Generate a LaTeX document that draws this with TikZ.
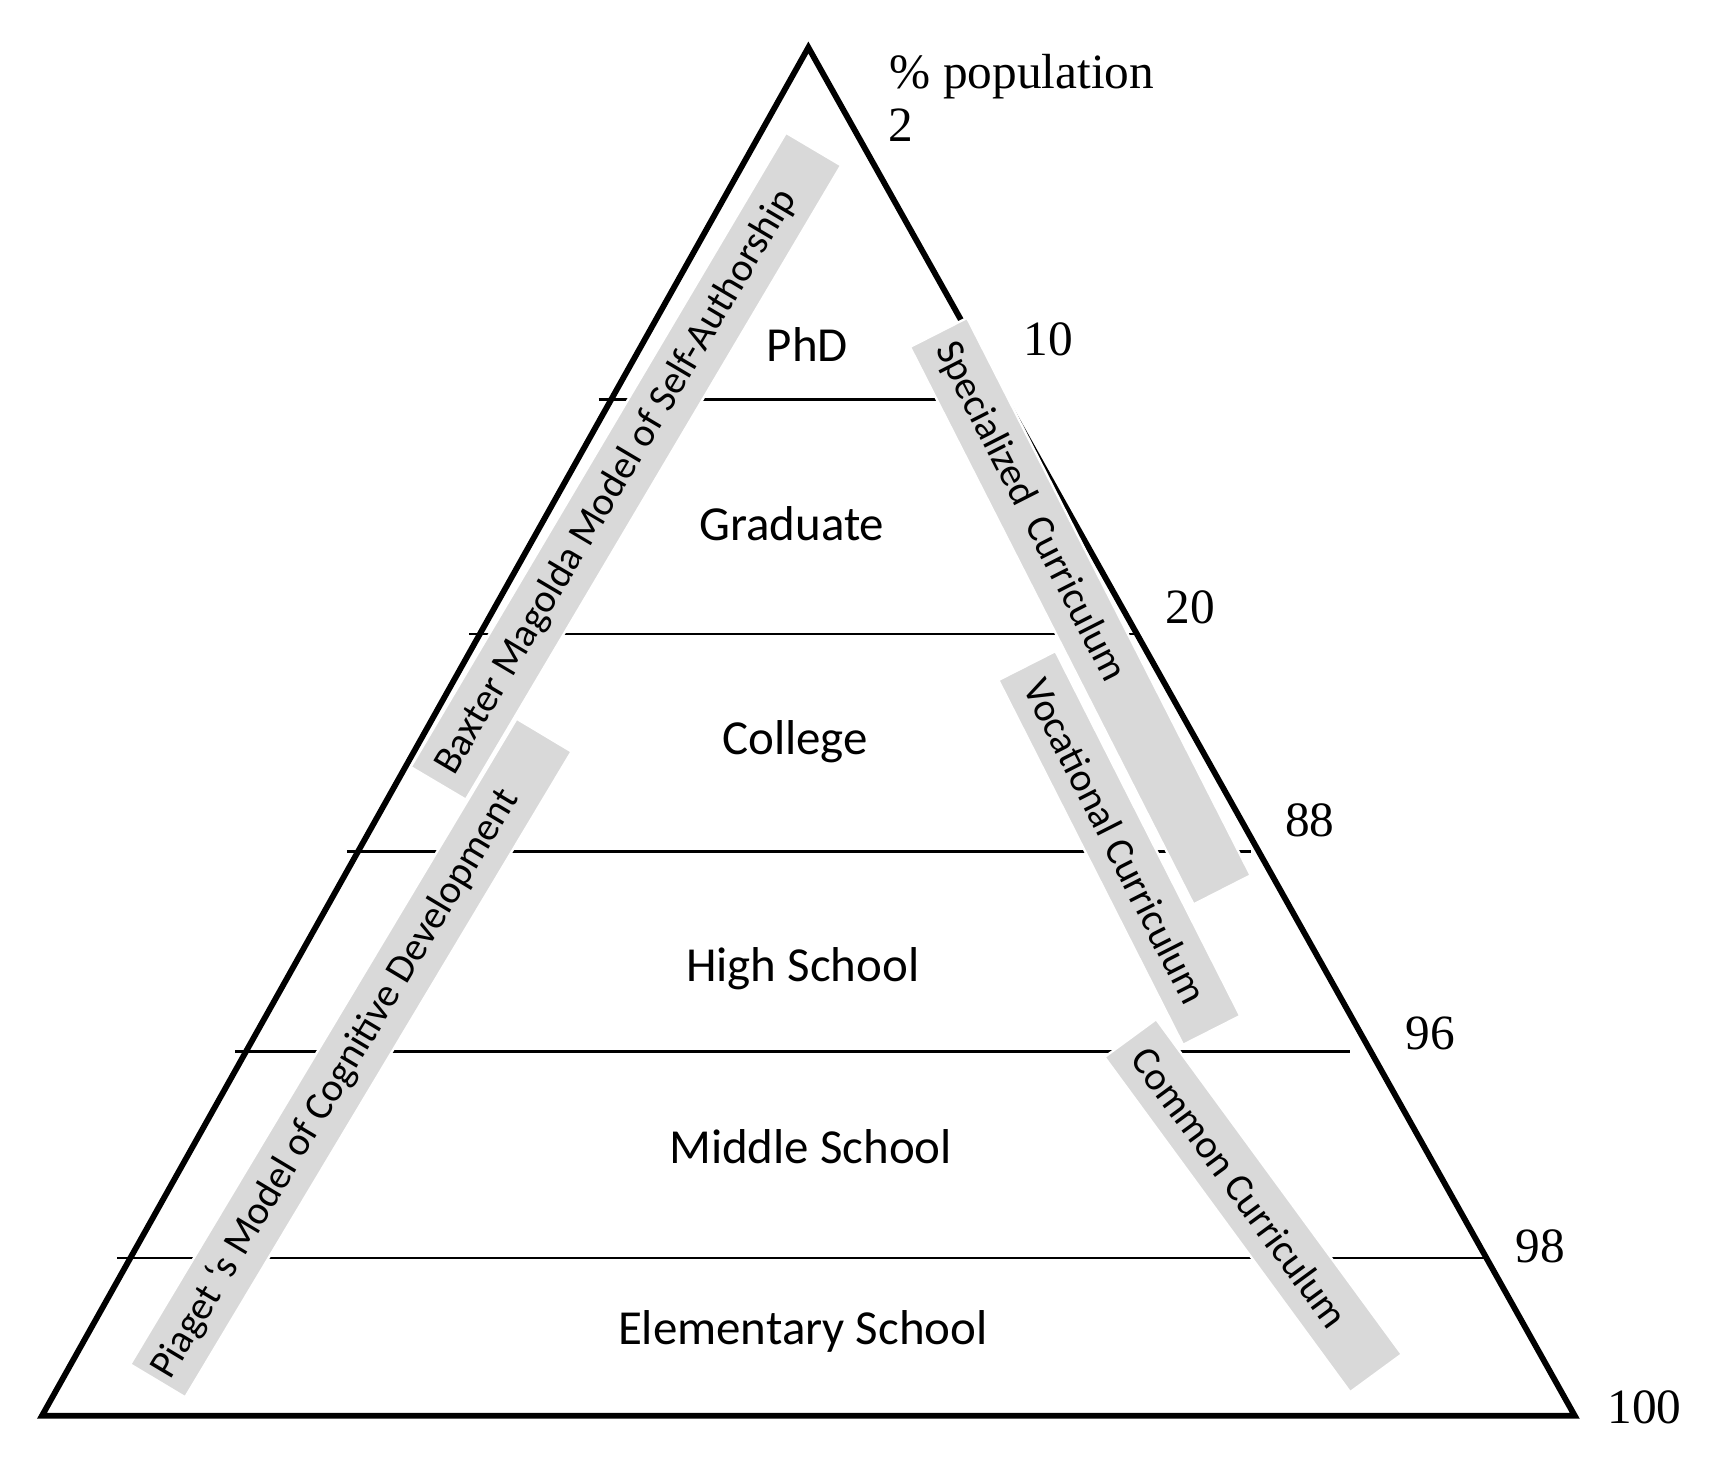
\documentclass[tikz,border=0pt]{standalone}
\usepackage{fontspec}
\setmainfont{Liberation Serif}
\newfontfamily\calibri{Carlito}
\definecolor{bandgray}{HTML}{D9D9D9}
\tikzset{
  pyramid/.style={draw,line width=1.5pt},
  tier/.style={draw,line width=0.7pt},
  pct/.style={anchor=base west,inner sep=0pt,font=\fontsize{12.7}{15}\selectfont},
  level/.style={anchor=base,inner sep=0pt,font=\calibri\fontsize{12.6}{15}\selectfont},
  band/.style={sloped,fill=bandgray,draw=white,line width=0.6pt,minimum height=0.58cm,inner sep=0pt},
  band text/.style={sloped,inner sep=0pt,font=\calibri\fontsize{10.3}{12}\selectfont}
}

\begin{document}
\begin{tikzpicture}[x=0.01cm,y=-0.01cm]
  \useasboundingbox (0,0) rectangle (1562,1336);

  \coordinate (apex) at (732,43);
  \coordinate (bl)   at (38,1282);
  \coordinate (br)   at (1426,1282);

  \draw [tier] (542,362)  -- (905,362);
  \draw [tier] (425,574)  -- (1029,574);
  \draw [tier] (314,771)  -- (1133,771);
  \draw [tier] (213,952)  -- (1222,952);
  \draw [tier] (106,1139) -- (1348,1139);
  \draw [pyramid] (apex) -- (br) -- (bl) -- cycle;

  \coordinate (baxA) at (397,709);    \coordinate (baxB) at (736.5,135.3);
  \coordinate (piaA) at (143,1250);   \coordinate (piaB) at (492.5,666);
  \coordinate (speA) at (850,301.3);  \coordinate (speB) at (1106.5,805.5);
  \coordinate (vocA) at (930,603);    \coordinate (vocB) at (1097,932.7);
  \coordinate (comA) at (1023.5,940); \coordinate (comB) at (1246,1243.5);

  \path (baxA) -- (baxB) node [band,midway,minimum width=6.67cm] (baxBox) {};
  \path (piaA) -- (piaB) node [band,midway,minimum width=6.81cm] (piaBox) {};
  \path (comA) -- (comB) node [band,midway,minimum width=3.76cm] (comBox) {};
  \path (vocA) -- (vocB) node [band,midway,minimum width=3.70cm] (vocBox) {};
  \path (speA) -- (speB) node [band,midway,minimum width=5.66cm] (speBox) {};

  \path (baxA) -- (baxB) node [band text,pos=0.475] (baxText) {Baxter Magolda Model of Self-Authorship};
  \path (piaA) -- (piaB) node [band text,pos=0.46]  (piaText) {Piaget ‘s Model of Cognitive Development};
  \path (speA) -- (speB) node [band text,pos=0.322] (speText) {Specialized\ \ Curriculum};
  \path (vocA) -- (vocB) node [band text,pos=0.481] (vocText) {Vocational Curriculum};
  \path (comA) -- (comB) node [band text,pos=0.446] (comText) {Common Curriculum};

  \node [level] (phd)  at (731,327)  {PhD};
  \node [level] (grad) at (717,489)  {Graduate};
  \node [level] (coll) at (720,683)  {College};
  \node [level] (high) at (727,889)  {High School};
  \node [level] (mid)  at (734,1054) {Middle School};
  \node [level] (elem) at (727,1217) {Elementary School};

  \node [pct] (pop)   at (805,80)    {\% population};
  \node [pct] (p2)    at (804,128)   {2};
  \node [pct] (p10)   at (926,322)   {10};
  \node [pct] (p20)   at (1055,565)  {20};
  \node [pct] (p88)   at (1163,757)  {88};
  \node [pct] (p96)   at (1272,950)  {96};
  \node [pct] (p98)   at (1372,1143) {98};
  \node [pct] (p100)  at (1455,1289) {100};
\end{tikzpicture}
\end{document}
